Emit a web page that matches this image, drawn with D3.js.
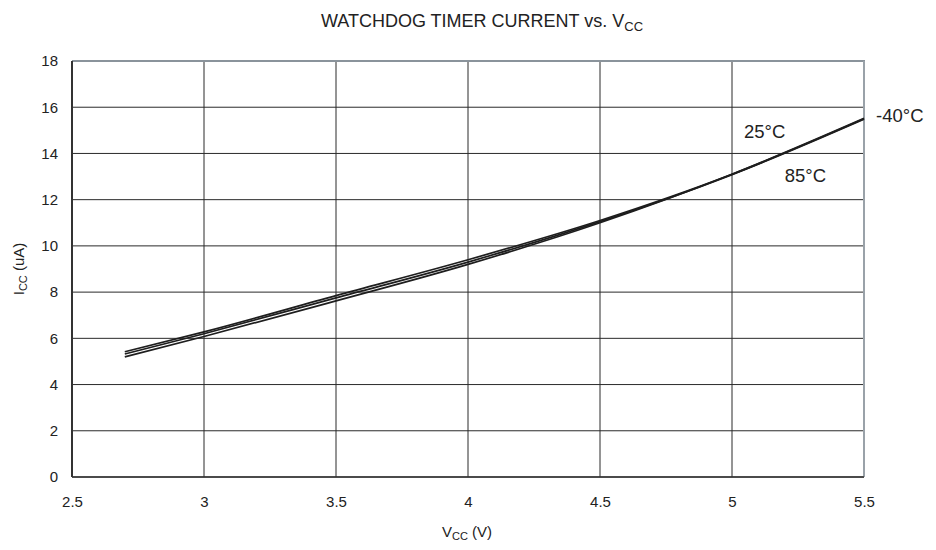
<!DOCTYPE html>
<html>
<head>
<meta charset="utf-8">
<script src="https://cdn.jsdelivr.net/npm/d3@7"></script>
<style>
  body { margin: 0; background: #fff; }
  svg { font-family: "Liberation Sans", Arial, sans-serif; }
</style>
</head>
<body>
<svg id="chart" width="936" height="550"></svg>
<script>
// Supply voltage (V) sample points
const vcc = [2.7, 3.0, 3.5, 4.0, 4.5, 5.0, 5.5];
// Watchdog timer current (uA) per temperature
const iccMinus40 = [5.42, 6.28, 7.85, 9.40, 11.10, 13.10, 15.50];
const icc25      = [5.32, 6.20, 7.75, 9.30, 11.05, 13.08, 15.48];
const icc85      = [5.20, 6.08, 7.62, 9.20, 11.00, 13.10, 15.52];
const seriesNames = ["-40°C", "25°C", "85°C"];
const xTicks = [2.5, 3, 3.5, 4, 4.5, 5, 5.5];
const yTicks = [0, 2, 4, 6, 8, 10, 12, 14, 16, 18];

(function () {
const svg = d3.select("#chart");
const pLeft = 72, pRight = 864, pTop = 61, pBottom = 477;

const x = d3.scaleLinear().domain([2.5, 5.5]).range([pLeft, pRight]);
const y = d3.scaleLinear().domain([0, 18]).range([pBottom, pTop]);

// Grid
svg.append("g").selectAll("line").data(xTicks).join("line")
  .attr("x1", d => x(d)).attr("x2", d => x(d))
  .attr("y1", pTop).attr("y2", pBottom)
  .attr("stroke", "#2a2a2a").attr("stroke-width", 1);
svg.append("g").selectAll("line").data(yTicks).join("line")
  .attr("x1", pLeft).attr("x2", pRight)
  .attr("y1", d => y(d)).attr("y2", d => y(d))
  .attr("stroke", "#2a2a2a").attr("stroke-width", 1);

// Frame: top and right edges lighter
svg.append("line").attr("x1", pLeft).attr("x2", pRight + 1).attr("y1", pTop).attr("y2", pTop)
  .attr("stroke", "#8a939b").attr("stroke-width", 2);
svg.append("line").attr("x1", pRight).attr("x2", pRight).attr("y1", pTop).attr("y2", pBottom)
  .attr("stroke", "#9aa2a9").attr("stroke-width", 2);
svg.append("line").attr("x1", pLeft).attr("x2", pLeft).attr("y1", pTop).attr("y2", pBottom)
  .attr("stroke", "#333").attr("stroke-width", 2);
svg.append("line").attr("x1", pLeft).attr("x2", pRight).attr("y1", pBottom).attr("y2", pBottom)
  .attr("stroke", "#333").attr("stroke-width", 1.5);

// Axes (labels only)
const xAxis = svg.append("g").attr("transform", `translate(0,${pBottom})`)
  .call(d3.axisBottom(x).tickValues(xTicks).tickSize(0).tickPadding(19).tickFormat(d3.format("")));
const yAxis = svg.append("g").attr("transform", `translate(${pLeft},0)`)
  .call(d3.axisLeft(y).tickValues(yTicks).tickSize(0).tickPadding(14).tickFormat(d3.format("")));
[xAxis, yAxis].forEach(a => {
  a.select(".domain").remove();
  a.selectAll("text").attr("font-size", 15).attr("fill", "#222")
    .attr("font-family", "Liberation Sans, Arial, sans-serif");
});

// Curves
const line = d3.line().x(d => x(d[0])).y(d => y(d[1])).curve(d3.curveMonotoneX);
[iccMinus40, icc25, icc85].forEach(vals => {
  svg.append("path")
    .datum(vcc.map((v, i) => [v, vals[i]]))
    .attr("d", line)
    .attr("fill", "none")
    .attr("stroke", "#1e1e1e")
    .attr("stroke-width", 1.7);
});

// Series labels
const lbl = [
  { t: seriesNames[0], v: 5.5, i: 15.5, dx: 12, dy: 3 },
  { t: seriesNames[1], v: 5.0, i: 15.5, dx: 12, dy: 19 },
  { t: seriesNames[2], v: 5.2, i: 13.6, dx: 0, dy: 19 }
];
svg.append("g").selectAll("text").data(lbl).join("text")
  .attr("x", d => x(d.v) + d.dx)
  .attr("y", d => y(d.i) + d.dy)
  .attr("font-size", 18.5).attr("fill", "#222")
  .text(d => d.t);

// Title
const title = svg.append("text").attr("x", 482).attr("y", 27)
  .attr("text-anchor", "middle").attr("font-size", 18).attr("fill", "#222");
title.append("tspan").text("WATCHDOG TIMER CURRENT vs. V");
title.append("tspan").attr("font-size", 13).attr("dy", 4).text("CC");

// X axis title
const xt = svg.append("text").attr("x", 467).attr("y", 537)
  .attr("text-anchor", "middle").attr("font-size", 15).attr("fill", "#222");
xt.append("tspan").text("V");
xt.append("tspan").attr("font-size", 11).attr("dy", 3).text("CC");
xt.append("tspan").attr("dy", -3).text(" (V)");

// Y axis title
const yt = svg.append("text").attr("transform", `translate(24,${(pTop + pBottom) / 2}) rotate(-90)`)
  .attr("text-anchor", "middle").attr("font-size", 15).attr("fill", "#222");
yt.append("tspan").text("I");
yt.append("tspan").attr("font-size", 11).attr("dy", 3).text("CC");
yt.append("tspan").attr("dy", -3).text(" (uA)");
})();
</script>
</body>
</html>
